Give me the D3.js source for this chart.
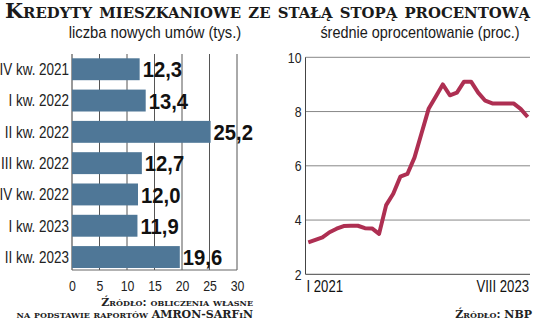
<!DOCTYPE html>
<html>
<head>
<meta charset="utf-8">
<script src="https://cdn.jsdelivr.net/npm/d3@7/dist/d3.min.js"></script>
<style>
  html, body { margin: 0; padding: 0; background: #fff; }
  svg { display: block; }
  .narrow { font-family: "Liberation Sans", Arial, sans-serif; }
  .serif { font-family: "DejaVu Serif", "Liberation Serif", serif; font-variant: small-caps; font-weight: bold; }
</style>
</head>
<body>
<svg id="chart" width="536" height="322"></svg>
<script>
// Fixed-rate mortgage loans: number of new contracts per quarter (thousands)
const quarters = ["IV kw. 2021", "I kw. 2022", "II kw. 2022", "III kw. 2022", "IV kw. 2022", "I kw. 2023", "II kw. 2023"];
const contracts = [12.3, 13.4, 25.2, 12.7, 12.0, 11.9, 19.6];
const contractTicks = [0, 5, 10, 15, 20, 25, 30];

// Average interest rate, monthly I 2021 – VIII 2023 (percent)
const months = d3.range(32);
const rate = [3.18, 3.27, 3.36, 3.55, 3.68, 3.78, 3.79, 3.79, 3.70, 3.69, 3.49, 4.55,
              4.97, 5.60, 5.70, 6.30, 7.20, 8.10, 8.55, 9.00, 8.60, 8.70, 9.10, 9.10,
              8.70, 8.40, 8.30, 8.30, 8.30, 8.30, 8.10, 7.80];
const rateTicks = [2, 4, 6, 8, 10];
const monthLabels = ["I 2021", "VIII 2023"];

const svg = d3.select("#chart");
const barColor = "#4f7797";
const lineColor = "#ae2f52";
const fmt = v => d3.format(".1f")(v).replace(".", ",");

// Squeeze text horizontally to mimic a condensed typeface
function condense(sel, k) {
  sel.each(function () {
    const w = this.getComputedTextLength();
    d3.select(this).attr("textLength", w * k).attr("lengthAdjust", "spacingAndGlyphs");
  });
}

// Title and subtitles
svg.append("text").attr("class", "serif")
  .attr("x", 5).attr("y", 18)
  .attr("font-size", 21).attr("fill", "#1a1a1a")
  .attr("textLength", 525).attr("lengthAdjust", "spacingAndGlyphs")
  .text("Kredyty mieszkaniowe ze stałą stopą procentową");

svg.append("text").attr("class", "narrow")
  .attr("x", 155).attr("y", 38).attr("text-anchor", "middle")
  .attr("font-size", 17).attr("fill", "#1a1a1a")
  .text("liczba nowych umów (tys.)")
  .call(condense, 0.87);

svg.append("text").attr("class", "narrow")
  .attr("x", 420).attr("y", 38).attr("text-anchor", "middle")
  .attr("font-size", 17).attr("fill", "#1a1a1a")
  .text("średnie oprocentowanie (proc.)")
  .call(condense, 0.85);

// ---- Bar chart ----
const x = d3.scaleLinear().domain([0, 30]).range([72, 237]);
const y = d3.scaleBand().domain(quarters).range([53.6, 272.7]).paddingInner(0.3).paddingOuter(0.15);

const bars = svg.append("g");
bars.selectAll("line.grid").data(contractTicks).join("line")
  .attr("class", "grid")
  .attr("x1", d => x(d)).attr("x2", d => x(d))
  .attr("y1", 54).attr("y2", 270)
  .attr("stroke", d => d === 0 ? "#333" : "#555").attr("stroke-width", 1);

bars.append("line")
  .attr("x1", x(0)).attr("x2", x(30)).attr("y1", 270).attr("y2", 270)
  .attr("stroke", "#666").attr("stroke-width", 1);

bars.selectAll("rect").data(quarters).join("rect")
  .attr("x", x(0)).attr("y", d => y(d))
  .attr("width", (d, i) => x(contracts[i]) - x(0))
  .attr("height", y.bandwidth())
  .attr("fill", barColor);

bars.selectAll("text.cat").data(quarters).join("text")
  .attr("class", "cat narrow")
  .attr("x", 69).attr("y", d => y(d) + y.bandwidth() / 2)
  .attr("dy", "0.36em").attr("text-anchor", "end")
  .attr("font-size", 16).attr("fill", "#222")
  .text(d => d)
  .call(condense, 0.84);

bars.selectAll("text.val").data(quarters).join("text")
  .attr("class", "val narrow")
  .attr("x", (d, i) => x(contracts[i]) + 3)
  .attr("y", d => y(d) + y.bandwidth() / 2)
  .attr("dy", "0.37em")
  .attr("font-size", 22).attr("font-weight", "bold").attr("fill", "#111")
  .text((d, i) => fmt(contracts[i]))
  .call(condense, 0.92);

const xAxis = svg.append("g").attr("transform", "translate(0,270)")
  .call(d3.axisBottom(x).tickValues(contractTicks).tickSize(0).tickPadding(10).tickFormat(d3.format("d")));
xAxis.select(".domain").remove();
xAxis.selectAll("text").attr("class", "narrow").attr("font-size", 15).attr("fill", "#222")
  .call(condense, 0.82);

// ---- Line chart ----
const xr = d3.scaleLinear().domain([0, 31]).range([308.3, 527.7]);
const yr = d3.scaleLinear().domain([2, 10]).range([274.3, 57.3]);

const lc = svg.append("g");
lc.selectAll("line.grid").data(rateTicks.filter(t => t > 2)).join("line")
  .attr("class", "grid")
  .attr("x1", 305.5).attr("x2", 530)
  .attr("y1", d => yr(d)).attr("y2", d => yr(d))
  .attr("stroke", "#888").attr("stroke-width", 1);

lc.append("line").attr("x1", 305.5).attr("x2", 530)
  .attr("y1", yr(2)).attr("y2", yr(2)).attr("stroke", "#444");
lc.append("line").attr("x1", 305.5).attr("x2", 305.5)
  .attr("y1", yr(10)).attr("y2", yr(2)).attr("stroke", "#444");

const yAxis = svg.append("g").attr("transform", "translate(305.5,0)")
  .call(d3.axisLeft(yr).tickValues(rateTicks).tickSize(0).tickPadding(4));
yAxis.select(".domain").remove();
yAxis.selectAll("text").attr("class", "narrow").attr("font-size", 15).attr("fill", "#222")
  .call(condense, 0.82);

lc.append("path")
  .datum(months)
  .attr("fill", "none")
  .attr("stroke", lineColor).attr("stroke-width", 4)
  .attr("stroke-linejoin", "round").attr("stroke-linecap", "butt")
  .attr("d", d3.line().x(i => xr(i)).y(i => yr(rate[i])));

lc.append("text").attr("class", "narrow")
  .attr("x", 306.5).attr("y", 292).attr("font-size", 16).attr("fill", "#111")
  .text(monthLabels[0])
  .call(condense, 0.82);
lc.append("text").attr("class", "narrow")
  .attr("x", 529).attr("y", 292).attr("text-anchor", "end").attr("font-size", 16).attr("fill", "#111")
  .text(monthLabels[1])
  .call(condense, 0.82);

// Sources
svg.append("text").attr("class", "serif")
  .attr("x", 253).attr("y", 306).attr("text-anchor", "end")
  .attr("font-size", 11).attr("fill", "#222")
  .text("Źródło: obliczenia własne");
svg.append("text").attr("class", "serif")
  .attr("x", 253).attr("y", 318).attr("text-anchor", "end")
  .attr("font-size", 11).attr("fill", "#222")
  .text("na podstawie raportów AMRON-SARFiN");
svg.append("text").attr("class", "serif")
  .attr("x", 532).attr("y", 318).attr("text-anchor", "end")
  .attr("font-size", 11).attr("fill", "#222")
  .text("Źródło: NBP");
</script>
</body>
</html>
